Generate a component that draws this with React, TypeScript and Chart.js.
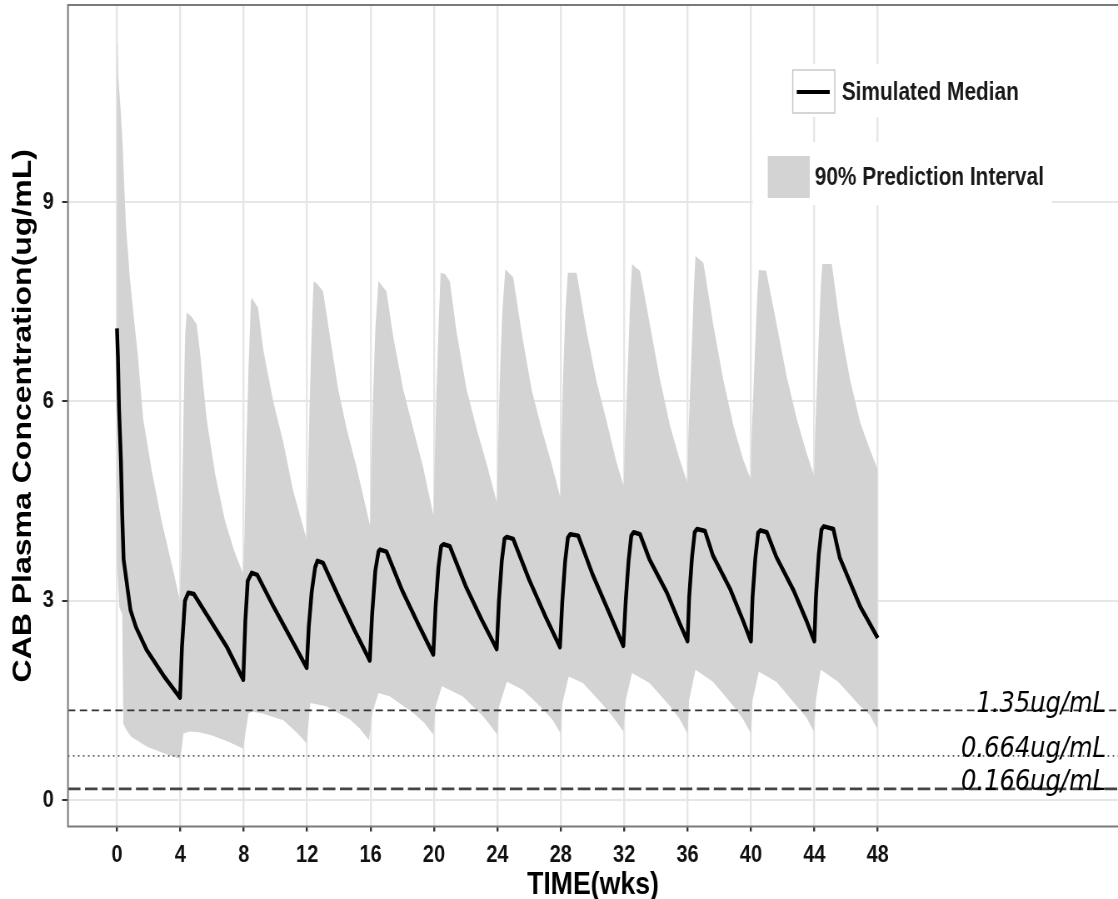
import React, { useEffect, useRef } from "react";
import { Chart, registerables } from "chart.js";

Chart.register(...registerables);

// ---------- data (time in weeks, concentration in ug/mL) ----------
const MEDIAN_WEEKS = [
  0, 0.06, 0.13, 0.25, 0.33, 0.42, 0.85, 1.2, 1.87, 3.0, 3.98,
  4.1, 4.29, 4.5, 4.85, 5.87, 6.92, 7.97,
  8.1, 8.25, 8.5, 8.85, 9.9, 11.0, 11.97,
  12.1, 12.28, 12.5, 12.65, 13.0, 14.0, 15.0, 15.95,
  16.1, 16.3, 16.5, 16.6, 17.0, 18.0, 19.0, 19.96,
  20.1, 20.28, 20.45, 20.6, 21.0, 22.0, 23.0, 23.96,
  24.1, 24.28, 24.45, 24.6, 25.0, 26.0, 27.0, 27.95,
  28.1, 28.28, 28.45, 28.6, 29.1, 30.0, 31.0, 31.95,
  32.1, 32.28, 32.45, 32.6, 33.0, 33.6, 34.7, 35.5, 36.0,
  36.1, 36.28, 36.45, 36.6, 37.1, 37.6, 38.7, 39.5, 40.0,
  40.1, 40.28, 40.45, 40.6, 41.0, 41.6, 42.7, 43.5, 44.0,
  44.1, 44.28, 44.45, 44.6, 45.2, 45.6, 46.9, 47.3, 48.0,
];
const MEDIAN_CONC = [
  7.1, 6.68, 5.9, 5.1, 4.3, 3.62, 2.86, 2.6, 2.26, 1.85, 1.54,
  2.3, 3.0, 3.12, 3.1, 2.71, 2.31, 1.81,
  2.7, 3.3, 3.42, 3.39, 2.9, 2.42, 1.99,
  2.6, 3.12, 3.5, 3.6, 3.57, 3.05, 2.55, 2.1,
  2.8, 3.45, 3.74, 3.77, 3.74, 3.15, 2.65, 2.19,
  2.9, 3.5, 3.82, 3.85, 3.82, 3.22, 2.72, 2.27,
  3.0, 3.6, 3.93, 3.96, 3.93, 3.32, 2.78, 2.3,
  3.0, 3.6, 3.95, 4.0, 3.98, 3.4, 2.85, 2.32,
  3.0, 3.6, 3.98, 4.03, 4.0, 3.62, 3.12, 2.66, 2.39,
  3.05, 3.65, 4.03, 4.08, 4.05, 3.68, 3.17, 2.7, 2.39,
  3.05, 3.65, 4.02, 4.06, 4.03, 3.66, 3.15, 2.7, 2.39,
  3.05, 3.7, 4.07, 4.12, 4.08, 3.65, 2.91, 2.74, 2.44,
];

const UPPER_WEEKS = [
  0, 0.04, 0.08, 0.23, 0.36, 0.44, 0.57, 0.82, 1.03, 1.3, 1.56, 1.66, 2.2, 2.8, 3.5, 3.98,
  4.05, 4.12, 4.2, 4.3, 4.4, 4.7, 5.03, 5.24, 5.66, 6.2, 6.8, 7.4, 7.97,
  8.05, 8.15, 8.3, 8.45, 8.5, 8.9, 9.23, 9.86, 10.5, 11.1, 11.97,
  12.05, 12.15, 12.28, 12.4, 12.6, 13.0, 13.44, 13.96, 14.5, 15.1, 15.98,
  16.05, 16.15, 16.3, 16.5, 17.0, 17.43, 18.06, 18.7, 19.3, 19.98,
  20.05, 20.15, 20.3, 20.42, 20.7, 21.0, 21.43, 22.06, 22.7, 23.3, 23.98,
  24.05, 24.15, 24.3, 24.5, 25.0, 25.53, 26.16, 26.8, 27.4, 27.98,
  28.05, 28.15, 28.3, 28.45, 29.0, 29.6, 30.26, 30.9, 31.5, 31.98,
  32.05, 32.26, 32.4, 32.5, 32.7, 33.0, 33.6, 34.26, 34.9, 35.5, 36.0,
  36.05, 36.26, 36.4, 36.5, 37.0, 37.6, 38.25, 38.9, 39.5, 40.0,
  40.05, 40.26, 40.4, 40.5, 40.96, 41.6, 42.25, 42.9, 43.5, 44.0,
  44.05, 44.26, 44.4, 44.5, 45.1, 45.6, 46.25, 46.9, 47.5, 48.0,
];
const UPPER_CONC = [
  11.4, 11.4, 10.9, 10.4, 9.85, 9.35, 8.64, 7.84, 7.34, 6.74, 6.0, 5.73, 4.95, 4.22, 3.5, 3.0,
  3.6, 4.6, 5.8, 7.0, 7.34, 7.28, 7.16, 6.74, 5.73, 4.9, 4.22, 3.75, 3.4,
  4.0, 5.2, 6.5, 7.5, 7.56, 7.41, 6.78, 6.0, 5.38, 4.67, 3.92,
  4.8, 5.9, 7.0, 7.81, 7.78, 7.66, 6.98, 6.18, 5.58, 5.03, 4.12,
  5.0, 6.0, 7.1, 7.81, 7.66, 6.98, 6.18, 5.58, 5.03, 4.27,
  5.1, 6.1, 7.2, 7.94, 7.92, 7.81, 7.04, 6.18, 5.58, 5.08, 4.47,
  5.3, 6.3, 7.3, 7.99, 7.87, 7.04, 6.18, 5.58, 5.08, 4.55,
  5.4, 6.4, 7.4, 7.94, 7.94, 7.09, 6.3, 5.7, 5.1, 4.72,
  5.38, 6.71, 7.63, 8.07, 8.02, 7.97, 7.19, 6.33, 5.63, 5.13, 4.77,
  5.45, 6.8, 7.7, 8.19, 8.09, 7.19, 6.33, 5.63, 5.13, 4.82,
  5.5, 6.8, 7.6, 7.98, 7.97, 7.19, 6.38, 5.73, 5.23, 4.87,
  5.5, 6.85, 7.7, 8.07, 8.07, 7.19, 6.33, 5.68, 5.28, 4.97,
];

const LOWER_WEEKS = [
  0, 0.15, 0.33, 0.4, 0.6, 0.9, 1.9, 3.0, 3.98,
  4.1, 4.19, 4.6, 5.2, 6.0, 7.0, 7.97,
  8.1, 8.3, 8.5, 9.2, 10.5, 11.4, 11.97,
  12.1, 12.2, 13.2, 14.7, 15.3, 15.9,
  16.1, 16.5, 17.2, 18.7, 19.4, 19.96,
  20.1, 20.5, 21.8, 23.1, 23.5, 24.0,
  24.1, 24.6, 25.6, 26.9, 27.5, 28.0,
  28.1, 28.5, 29.4, 30.6, 31.3, 31.95,
  32.1, 32.5, 33.6, 34.9, 35.5, 36.0,
  36.1, 36.5, 37.6, 38.9, 39.5, 40.0,
  40.1, 40.5, 41.6, 42.9, 43.5, 43.97,
  44.1, 44.4, 45.5, 46.9, 47.5, 48.0,
];
const LOWER_CONC = [
  3.6, 2.9, 2.8, 1.15, 1.05, 0.95, 0.8, 0.7, 0.62,
  0.8, 1.0, 1.03, 1.02, 0.97, 0.88, 0.77,
  1.0, 1.3, 1.33, 1.3, 1.2, 1.0, 0.85,
  1.2, 1.46, 1.41, 1.21, 1.08, 0.9,
  1.3, 1.61, 1.56, 1.31, 1.16, 0.98,
  1.4, 1.71, 1.56, 1.26, 1.14, 0.98,
  1.4, 1.78, 1.66, 1.36, 1.2, 1.0,
  1.45, 1.86, 1.76, 1.45, 1.25, 1.03,
  1.5, 1.91, 1.76, 1.41, 1.22, 1.0,
  1.5, 1.96, 1.78, 1.41, 1.22, 1.0,
  1.5, 1.93, 1.78, 1.41, 1.24, 1.03,
  1.5, 1.96, 1.78, 1.41, 1.28, 1.06,
];

const X_TICKS = [0, 4, 8, 12, 16, 20, 24, 28, 32, 36, 40, 44, 48];
const Y_TICKS = [0, 3, 6, 9];
const X_MIN = -3.09;
const X_MAX = 63.16;
const Y_MIN = -0.4;
const Y_MAX = 11.97;

const REF_LEVELS = [1.35, 0.664, 0.166];
const REF_LABELS = ["1.35ug/mL", "0.664ug/mL", "0.166ug/mL"];
const REF_LABEL_X = 62.4;

const X_TITLE = "TIME(wks)";
const Y_TITLE = "CAB Plasma Concentration(ug/mL)";
const LEGEND_LABELS = ["Simulated Median", "90% Prediction Interval"];

// ---------- presentation ----------
const PAGE_W = 1118;
const PAGE_H = 899;
const SQUEEZE = 1.2; // the reference is horizontally condensed
const CANVAS_W = Math.round(PAGE_W * SQUEEZE);
const FONT = '"Liberation Sans", Arial, Helvetica, sans-serif';
const BAND = "rgb(211,211,211)";
const GRID = "#e6e6e6";

const toPts = (xs: number[], ys: number[]) => xs.map((x, i) => ({ x, y: ys[i] }));

const REF_STYLES = [
  { color: "#333", width: 1.8, dash: [8.8, 5.4] },
  { color: "#555", width: 1.7, dash: [1.8, 4.2] },
  { color: "#444", width: 2.6, dash: [15, 5.4] },
];

const decorPlugin = {
  id: "decor",
  afterDatasetsDraw(chart: any) {
    const { ctx, chartArea, scales } = chart;
    const xs = scales.x;
    const ys = scales.y;
    ctx.save();

    // reference labels
    ctx.font = 'italic 29px "DejaVu Sans", sans-serif';
    ctx.fillStyle = "#000";
    ctx.textAlign = "right";
    ctx.textBaseline = "alphabetic";
    REF_LEVELS.forEach((v, i) => {
      const px = xs.getPixelForValue(REF_LABEL_X);
      const py = ys.getPixelForValue(v) + (i === 0 ? 2 : 1);
      ctx.fillText(REF_LABELS[i], px, py);
    });

    // legend (coordinates in unsqueezed canvas space)
    const S = SQUEEZE;
    ctx.fillStyle = "#fff";
    ctx.fillRect(790 * S, 64, 240 * S, 53);
    ctx.fillRect(753 * S, 142, 299 * S, 63);

    ctx.fillStyle = "#fff";
    ctx.fillRect(793 * S, 70, 42 * S, 43);
    ctx.strokeStyle = "#c9c9c9";
    ctx.lineWidth = 1.5;
    ctx.strokeRect(793 * S, 70, 42 * S, 43);
    ctx.strokeStyle = "#000";
    ctx.lineWidth = 4;
    ctx.beginPath();
    ctx.moveTo(797 * S, 92);
    ctx.lineTo(830 * S, 92);
    ctx.stroke();

    ctx.fillStyle = BAND;
    ctx.fillRect(768 * S, 156, 42 * S, 42);

    ctx.font = `bold 25px ${FONT}`;
    ctx.fillStyle = "#1a1a1a";
    ctx.textAlign = "left";
    ctx.textBaseline = "middle";
    ctx.fillText(LEGEND_LABELS[0], 842 * S, 93);
    ctx.fillText(LEGEND_LABELS[1], 815 * S, 178);

    // panel border
    ctx.strokeStyle = "#7a7a7a";
    ctx.lineWidth = 2;
    ctx.beginPath();
    ctx.moveTo(chartArea.right + 2, chartArea.top);
    ctx.lineTo(chartArea.left, chartArea.top);
    ctx.lineTo(chartArea.left, chartArea.bottom);
    ctx.lineTo(chartArea.right + 2, chartArea.bottom);
    ctx.stroke();
    ctx.restore();
  },
};

export default function App() {
  const ref = useRef<HTMLCanvasElement | null>(null);

  useEffect(() => {
    const canvas = ref.current;
    if (!canvas) return;

    const refSets = REF_LEVELS.map((v, i) => ({
      label: REF_LABELS[i],
      data: [
        { x: X_MIN, y: v },
        { x: X_MAX, y: v },
      ],
      borderColor: REF_STYLES[i].color,
      borderWidth: REF_STYLES[i].width,
      borderDash: REF_STYLES[i].dash,
      borderCapStyle: "butt",
      pointRadius: 0,
      fill: false,
      order: 2,
    }));

    const chart = new Chart(canvas, {
      type: "line",
      data: {
        datasets: [
          {
            label: "upper",
            data: toPts(UPPER_WEEKS, UPPER_CONC),
            borderColor: "rgba(0,0,0,0)",
            borderWidth: 0,
            backgroundColor: BAND,
            fill: "+1",
            pointRadius: 0,
            tension: 0,
            order: 5,
          },
          {
            label: "lower",
            data: toPts(LOWER_WEEKS, LOWER_CONC),
            borderColor: "rgba(0,0,0,0)",
            borderWidth: 0,
            backgroundColor: BAND,
            fill: false,
            pointRadius: 0,
            tension: 0,
            order: 6,
          },
          ...refSets,
          {
            label: LEGEND_LABELS[0],
            data: toPts(MEDIAN_WEEKS, MEDIAN_CONC),
            borderColor: "#000",
            borderWidth: 4.5,
            borderJoinStyle: "round",
            pointRadius: 0,
            tension: 0,
            fill: false,
            order: 1,
          },
        ] as any,
      },
      options: {
        animation: false,
        responsive: false,
        maintainAspectRatio: false,
        devicePixelRatio: 1,
        layout: { padding: { top: 5, right: 0, bottom: 0, left: 0 } },
        plugins: {
          legend: { display: false },
          tooltip: { enabled: false },
        },
        scales: {
          x: {
            type: "linear",
            min: X_MIN,
            max: X_MAX,
            afterBuildTicks: (s: any) => {
              s.ticks = X_TICKS.map((v) => ({ value: v }));
            },
            afterFit: (s: any) => {
              s.height = 72.5;
              s.paddingLeft = 0;
              s.paddingRight = 0;
            },
            border: { display: false },
            grid: {
              color: GRID,
              lineWidth: 2.4,
              drawTicks: true,
              tickLength: 5,
              tickColor: "#333",
              tickWidth: 2.4,
            },
            ticks: {
              autoSkip: false,
              maxRotation: 0,
              padding: 9,
              color: "#111",
              font: { family: FONT, size: 24, weight: "bold" },
            },
            title: {
              display: true,
              text: X_TITLE,
              color: "#000",
              font: { family: FONT, size: 32, weight: "bold", lineHeight: 1 },
              padding: { top: 0, bottom: -2 },
            },
          },
          y: {
            type: "linear",
            min: Y_MIN,
            max: Y_MAX,
            afterBuildTicks: (s: any) => {
              s.ticks = Y_TICKS.map((v) => ({ value: v }));
            },
            afterFit: (s: any) => {
              s.width = 81.6;
              s.paddingTop = 0;
              s.paddingBottom = 0;
            },
            border: { display: false },
            grid: {
              color: GRID,
              lineWidth: 2,
              drawTicks: true,
              tickLength: 7,
              tickColor: "#333",
              tickWidth: 2,
            },
            ticks: {
              padding: 10,
              color: "#111",
              font: { family: FONT, size: 24, weight: "bold" },
            },
            title: {
              display: true,
              text: Y_TITLE,
              color: "#000",
              font: { family: FONT, size: 32, weight: "bold" },
              padding: { top: 9, bottom: 0 },
            },
          },
        },
      } as any,
      plugins: [decorPlugin],
    });

    return () => chart.destroy();
  }, []);

  return (
    <div
      style={{
        position: "fixed",
        left: 0,
        top: 0,
        width: PAGE_W,
        height: PAGE_H,
        overflow: "hidden",
        background: "#fff",
      }}
    >
      <canvas
        ref={ref}
        width={CANVAS_W}
        height={PAGE_H}
        style={{ width: PAGE_W + "px", height: PAGE_H + "px", display: "block" }}
      />
    </div>
  );
}
